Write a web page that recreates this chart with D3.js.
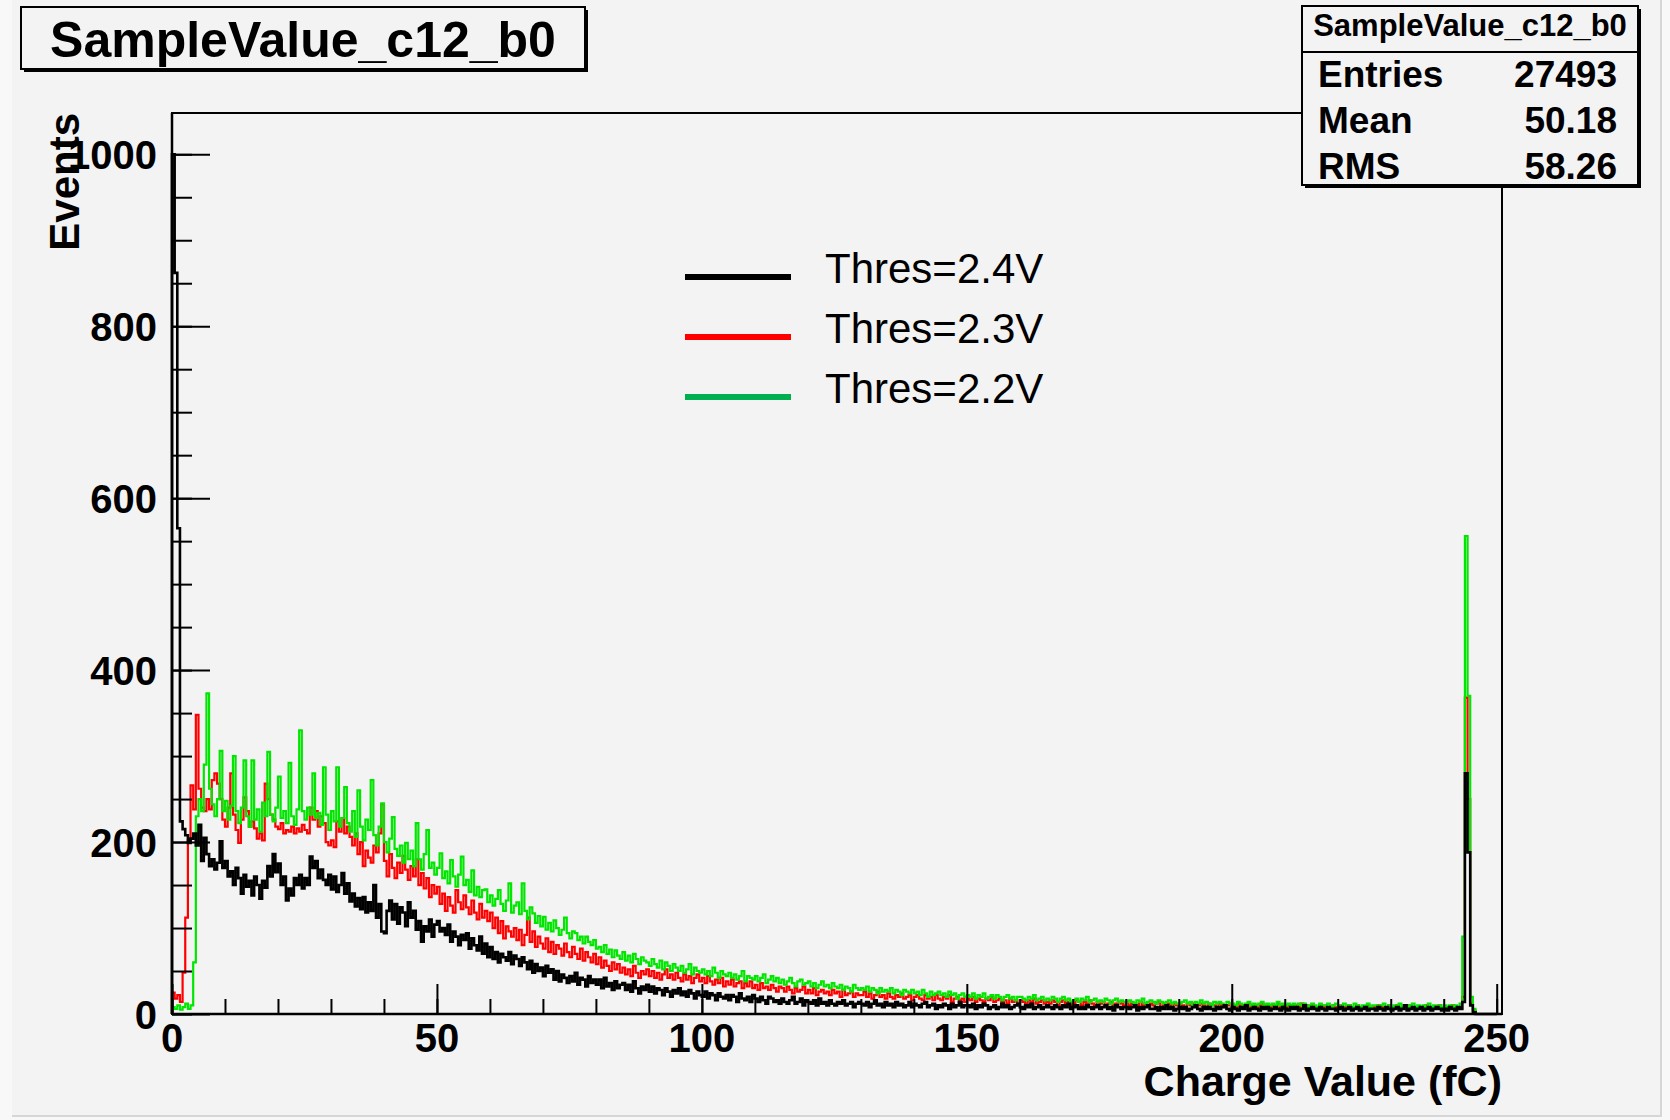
<!DOCTYPE html>
<html>
<head>
<meta charset="utf-8">
<script src="https://cdn.jsdelivr.net/npm/d3@7"></script>
<style>
  html, body { margin: 0; padding: 0; background: #f8f8f8; }
  svg { display: block; }
</style>
</head>
<body>
<script>
// ---------------- data ----------------
const histTitle = "SampleValue_c12_b0";
const xTitle = "Charge Value (fC)";
const yTitle = "Events";
const binWidth = 0.5;          // fC per bin
const xTicks = [0, 50, 100, 150, 200, 250];
const yTicks = [0, 200, 400, 600, 800, 1000];
const seriesNames = ["Thres=2.4V", "Thres=2.3V", "Thres=2.2V"];
const statsLabels = ["Entries", "Mean", "RMS"];
const statsValues = ["27493", "50.18", "58.26"];

// Thres=2.4V (black), counts per 0.5 fC bin starting at 0
const thres24 = [
1000,862,565,224,215,208,199,204,210,196,
220,178,205,186,172,180,168,176,201,170,
178,160,166,150,170,158,140,162,148,155,
138,160,150,134,155,147,172,160,186,165,
175,150,160,132,146,138,158,150,162,146,
158,150,183,170,178,158,168,156,150,162,
145,160,142,150,164,140,152,131,140,125,
135,122,136,118,130,120,150,112,128,96,
94,120,132,110,128,105,124,118,102,130,
112,120,98,108,84,102,96,110,90,104,
108,96,100,92,104,84,96,90,80,92,
86,94,76,88,80,74,90,70,82,66,
78,64,72,60,70,66,62,72,58,68,
64,56,66,60,52,62,48,58,50,54,
44,56,48,52,40,50,38,46,42,36,
44,38,48,34,42,40,32,44,36,40,
34,40,30,42,32,36,28,38,30,34,
36,28,34,26,38,30,24,32,28,34,
26,32,24,30,28,22,30,26,20,28,
24,30,22,26,20,28,24,18,26,22,
20,26,18,24,22,16,24,20,18,22,
16,22,20,14,24,18,16,20,14,22,
18,14,20,16,12,20,18,14,16,12,
18,14,12,16,20,12,14,18,10,16,
14,12,16,10,18,12,14,10,16,12,
10,14,12,16,10,12,14,8,12,14,
12,10,14,8,12,16,10,12,8,14,
10,12,8,14,10,12,8,10,14,8,
12,10,8,12,14,8,10,12,6,10,
8,12,10,6,12,8,10,14,8,10,
10,8,12,6,10,8,12,10,6,8,
10,6,8,12,8,10,6,8,10,12,
8,6,10,8,12,6,8,10,6,8,
10,8,6,10,8,6,10,8,12,6,
8,10,6,8,6,10,8,6,8,10,
6,8,10,6,8,4,10,8,6,8,
8,6,8,10,4,8,6,8,10,6,
6,8,4,8,6,10,6,8,4,6,
8,6,8,4,6,8,10,6,4,8,
6,8,6,4,8,6,8,10,6,4,
8,6,4,8,6,10,4,6,8,6,
4,8,6,8,4,6,8,6,4,8,
6,4,8,6,8,4,6,10,4,6,
8,6,4,8,6,4,8,6,6,4,
6,8,4,6,8,4,6,8,4,6,
8,4,6,6,4,8,6,4,8,6,
4,6,8,4,6,10,4,6,8,4,
6,8,4,6,8,4,6,8,6,4,
6,4,8,6,4,8,6,14,280,188,
10,2,0,0,0,0,0,0,0,0
];

// Thres=2.3V (red)
const thres23 = [
25,18,22,14,48,112,202,266,238,348,
262,240,236,250,238,272,280,268,250,226,
218,240,280,232,214,199,226,252,236,218,
224,216,204,210,202,268,250,232,226,218,
215,222,210,214,212,218,210,216,212,220,
214,210,240,226,236,218,230,222,200,196,
202,194,224,212,228,210,218,206,196,210,
186,200,172,190,182,176,196,188,210,244,
178,160,186,170,158,176,164,184,168,156,
172,160,180,150,164,146,158,136,150,140,
148,128,140,120,136,126,118,144,130,122,
138,124,116,132,118,110,128,112,120,108,
118,100,112,94,108,88,102,96,90,100,
86,98,80,92,112,84,96,78,90,82,
76,88,72,84,70,80,76,68,82,72,
66,78,70,64,76,62,72,66,60,70,
58,66,54,62,56,50,60,52,58,48,
54,46,52,44,56,48,42,50,46,52,
44,50,42,48,40,46,52,42,46,40,
48,42,38,46,40,44,36,42,46,38,
42,36,44,38,34,40,36,42,32,38,
34,40,32,36,38,30,36,32,38,30,
34,28,36,30,32,28,34,30,26,32,
30,26,32,28,24,30,26,28,32,24,
28,24,30,22,26,28,24,26,22,28,
24,26,20,28,22,24,26,20,24,22,
22,26,20,24,18,22,26,20,22,18,
24,20,18,22,20,24,18,20,22,16,
20,22,18,16,22,18,20,16,22,18,
16,20,18,22,14,18,20,16,18,14,
18,16,20,14,18,16,14,18,16,20,
14,16,18,14,16,12,18,14,16,12,
16,14,12,16,14,18,12,14,16,12,
14,12,16,14,10,14,16,12,14,10,
12,16,14,10,14,12,16,12,10,14,
12,14,10,12,14,10,12,14,12,10,
14,10,12,12,8,14,10,12,10,12,
10,12,14,8,12,10,12,8,12,10,
12,10,8,12,10,12,8,10,12,10,
8,12,10,10,8,12,10,8,10,12,
10,8,12,10,8,10,12,8,10,8,
10,12,8,10,8,10,8,12,8,10,
8,10,10,6,10,8,12,8,10,8,
10,8,6,10,8,10,8,6,10,8,
8,10,6,8,10,8,6,10,8,8,
6,10,8,8,6,10,8,6,8,10,
8,6,10,8,6,8,10,6,8,8,
6,8,8,10,6,8,6,8,10,6,
8,6,8,10,6,8,6,20,368,250,
12,4,0,0,0,0,0,0,0,0
];

// Thres=2.2V (green)
const thres22 = [
8,6,10,5,8,12,6,10,60,230,
250,236,290,373,262,244,230,250,306,236,
248,226,242,300,236,222,240,295,230,218,
295,226,238,212,246,230,305,232,224,240,
276,228,236,222,292,230,220,238,330,236,
226,240,232,280,228,234,220,287,232,214,
236,224,287,218,228,264,222,212,236,206,
260,218,202,226,214,272,208,196,218,245,
200,188,204,229,192,184,196,176,199,180,
190,172,222,180,168,186,214,170,176,162,
170,187,158,166,152,179,160,148,162,183,
150,156,142,167,138,148,136,144,145,130,
138,126,134,144,128,120,132,152,118,126,
130,116,152,120,110,124,117,106,114,102,
113,98,106,96,109,100,92,98,112,94,
88,96,94,86,90,82,90,84,80,86,
76,78,72,80,70,75,66,74,68,64,
72,62,68,60,70,64,58,66,62,60,
56,64,58,54,62,52,60,56,50,58,
54,50,56,48,52,58,46,54,50,48,
52,46,50,44,54,48,42,50,46,44,
48,42,46,40,44,50,38,44,42,40,
44,38,42,46,36,40,44,38,42,36,
40,34,38,42,36,32,38,40,34,36,
38,32,36,30,34,38,32,34,30,36,
32,30,34,28,32,30,26,34,30,28,
30,28,32,26,30,28,24,30,26,28,
26,30,24,28,26,22,28,26,24,28,
24,26,22,28,24,20,26,22,24,26,
22,24,20,26,22,24,18,22,24,20,
22,20,24,18,22,20,24,18,20,22,
18,22,20,16,20,22,18,20,16,20,
20,18,16,20,18,22,16,18,20,16,
18,16,20,18,14,18,20,16,18,14,
16,18,14,18,16,20,14,16,18,14,
16,14,18,16,12,16,18,14,16,14,
14,16,14,12,16,14,18,12,14,16,
14,12,16,14,12,14,16,12,14,12,
12,14,16,12,14,10,14,12,16,12,
14,12,10,14,12,14,12,10,14,12,
12,10,14,12,10,12,14,10,12,10,
12,14,10,12,10,12,10,14,10,12,
10,12,10,12,8,12,10,12,10,8,
12,10,8,12,10,10,12,8,10,12,
10,8,12,10,10,8,12,10,8,10,
10,12,8,10,10,8,10,12,8,10,
8,10,10,12,8,10,8,10,12,8,
10,8,10,8,12,8,10,8,10,8,
10,8,10,8,10,8,12,90,556,370,
20,6,0,0,0,0,0,0,0,0
];

// ---------------- layout ----------------
const W = 1670, H = 1120;
const frame = { left: 172, right: 1502, top: 113, bottom: 1014 };
const font = "'Liberation Sans', Arial, Helvetica, sans-serif";
const bg = "#f3f3f3";

const svg = d3.select("body").append("svg")
  .attr("width", W).attr("height", H)
  .style("font-family", font);

// canvas background with faint border
svg.append("rect").attr("x", 0).attr("y", 0).attr("width", W).attr("height", H).attr("fill", "#f8f8f8");
svg.append("rect").attr("x", 12).attr("y", 0).attr("width", 1649).attr("height", 1115).attr("fill", bg);
svg.append("line").attr("x1", 1661).attr("x2", 1661).attr("y1", 0).attr("y2", 1116)
  .attr("stroke", "#d6d6d6").attr("stroke-width", 2);
svg.append("line").attr("x1", 12).attr("x2", 1662).attr("y1", 1116).attr("y2", 1116)
  .attr("stroke", "#d6d6d6").attr("stroke-width", 2);

const x = d3.scaleLinear().domain([0, 251]).range([frame.left, frame.right]);
const y = d3.scaleLinear().domain([0, 1048]).range([frame.bottom, frame.top]);

// frame
svg.append("rect")
  .attr("x", frame.left).attr("y", frame.top)
  .attr("width", frame.right - frame.left).attr("height", frame.bottom - frame.top)
  .attr("fill", bg).attr("stroke", "#000").attr("stroke-width", 2);

// histograms
function histPoints(vals) {
  const pts = [{ x: 0, y: 0 }];
  vals.forEach((v, i) => pts.push({ x: i * binWidth, y: v }));
  pts.push({ x: vals.length * binWidth, y: 0 });
  return pts;
}
const line = d3.line().x(d => x(d.x)).y(d => y(d.y)).curve(d3.curveStepAfter);
const series = [
  { vals: thres23, color: "#ff0000", w: 2.2 },
  { vals: thres22, color: "#00e600", w: 2.2 },
  { vals: thres24, color: "#000000", w: 2.6 }
];
const gH = svg.append("g");
series.forEach(s => {
  gH.append("path").attr("d", line(histPoints(s.vals)))
    .attr("fill", "none").attr("stroke", s.color).attr("stroke-width", s.w)
    .attr("stroke-linejoin", "miter");
});

// axes (ROOT style ticks inside frame)
const gx = svg.append("g").attr("transform", `translate(0,${frame.bottom})`);
gx.call(d3.axisTop(x).tickValues(d3.range(0, 251, 10)).tickSize(15).tickFormat(""))
  .call(g => g.select(".domain").remove())
  .call(g => g.selectAll(".tick line").attr("stroke", "#000").attr("stroke-width", 2));
const gx2 = svg.append("g").attr("transform", `translate(0,${frame.bottom})`);
gx2.call(d3.axisTop(x).tickValues(xTicks).tickSize(30).tickFormat(""))
  .call(g => g.select(".domain").remove())
  .call(g => g.selectAll(".tick line").attr("stroke", "#000").attr("stroke-width", 2));
xTicks.forEach(t => {
  svg.append("text").attr("x", x(t)).attr("y", 1052)
    .attr("text-anchor", "middle").attr("font-size", 40).attr("font-weight", "bold")
    .text(t);
});

const gy = svg.append("g").attr("transform", `translate(${frame.left},0)`);
gy.call(d3.axisRight(y).tickValues(d3.range(0, 1001, 50)).tickSize(20).tickFormat(""))
  .call(g => g.select(".domain").remove())
  .call(g => g.selectAll(".tick line").attr("stroke", "#000").attr("stroke-width", 2));
const gy2 = svg.append("g").attr("transform", `translate(${frame.left},0)`);
gy2.call(d3.axisRight(y).tickValues(yTicks).tickSize(38).tickFormat(""))
  .call(g => g.select(".domain").remove())
  .call(g => g.selectAll(".tick line").attr("stroke", "#000").attr("stroke-width", 2));
yTicks.forEach(t => {
  svg.append("text").attr("x", 157).attr("y", y(t) + 15)
    .attr("text-anchor", "end").attr("font-size", 40).attr("font-weight", "bold")
    .text(t);
});

// axis lines on top
svg.append("line").attr("x1", frame.left).attr("x2", frame.right)
  .attr("y1", frame.bottom).attr("y2", frame.bottom).attr("stroke", "#000").attr("stroke-width", 2.5);
svg.append("line").attr("x1", frame.left).attr("x2", frame.left)
  .attr("y1", frame.top).attr("y2", frame.bottom).attr("stroke", "#000").attr("stroke-width", 2.5);

// axis titles
svg.append("text").attr("x", frame.right).attr("y", 1096)
  .attr("text-anchor", "end").attr("font-size", 43).attr("font-weight", "bold")
  .text(xTitle);
svg.append("text")
  .attr("transform", `translate(79,${frame.top}) rotate(-90)`)
  .attr("text-anchor", "end").attr("font-size", 42).attr("font-weight", "bold")
  .text(yTitle);

// title box
svg.append("rect").attr("x", 24).attr("y", 10).attr("width", 564).attr("height", 62).attr("fill", "#000");
svg.append("rect").attr("x", 21).attr("y", 7).attr("width", 564).attr("height", 62)
  .attr("fill", bg).attr("stroke", "#000").attr("stroke-width", 2);
svg.append("text").attr("x", 303).attr("y", 57)
  .attr("text-anchor", "middle").attr("font-size", 50).attr("font-weight", "bold")
  .text(histTitle);

// stats box
const sb = { x: 1302, y: 6, w: 336, h: 179 };
svg.append("rect").attr("x", sb.x + 3).attr("y", sb.y + 3).attr("width", sb.w).attr("height", sb.h).attr("fill", "#000");
svg.append("rect").attr("x", sb.x).attr("y", sb.y).attr("width", sb.w).attr("height", sb.h)
  .attr("fill", bg).attr("stroke", "#000").attr("stroke-width", 2);
svg.append("line").attr("x1", sb.x).attr("x2", sb.x + sb.w).attr("y1", 52).attr("y2", 52)
  .attr("stroke", "#000").attr("stroke-width", 2);
svg.append("text").attr("x", sb.x + sb.w / 2).attr("y", 36)
  .attr("text-anchor", "middle").attr("font-size", 31).attr("font-weight", "bold")
  .text(histTitle);
statsLabels.forEach((l, i) => {
  const by = 87 + i * 46;
  svg.append("text").attr("x", 1318).attr("y", by)
    .attr("font-size", 37).attr("font-weight", "bold").text(l);
  svg.append("text").attr("x", 1617).attr("y", by).attr("text-anchor", "end")
    .attr("font-size", 37).attr("font-weight", "bold").text(statsValues[i]);
});

// legend
const legendColors = ["#000000", "#ff0000", "#00b050"];
seriesNames.forEach((n, i) => {
  const ly = 277 + i * 60;
  svg.append("line").attr("x1", 685).attr("x2", 791).attr("y1", ly).attr("y2", ly)
    .attr("stroke", legendColors[i]).attr("stroke-width", 6);
  svg.append("text").attr("x", 825).attr("y", ly + 6)
    .attr("font-size", 42).text(n);
});
</script>
</body>
</html>
